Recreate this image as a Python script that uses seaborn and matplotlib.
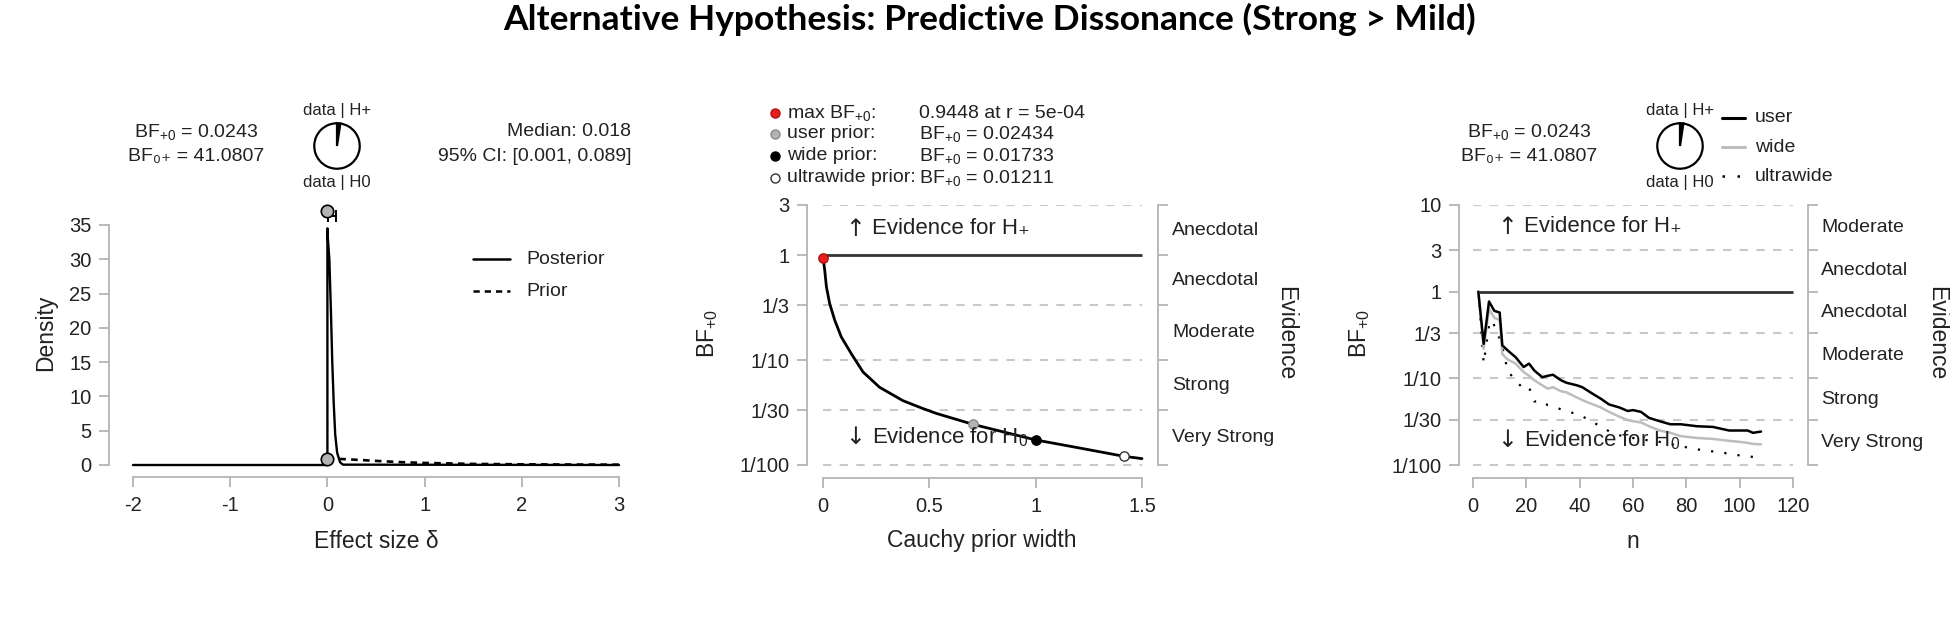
import numpy as np
import pandas as pd
import matplotlib
matplotlib.use("Agg")
import matplotlib.pyplot as plt
import matplotlib.transforms as mtransforms
from matplotlib.lines import Line2D
from matplotlib.ticker import NullLocator, FixedLocator, FixedFormatter
import seaborn as sns

# ------------------------------------------------------------------ data
title = "Alternative Hypothesis: Predictive Dissonance (Strong > Mild)"

# panel 1: prior / posterior
delta_post = [-2.0, 0.0, 0.0, 0.005, 0.02, 0.035, 0.05, 0.065, 0.08, 0.10, 0.13, 0.16, 3.0]
dens_post = [0.0, 0.0, 34.5, 33.0, 30.0, 23.0, 15.0, 9.0, 4.5, 1.8, 0.4, 0.05, 0.0]
delta_prior = [0.0, 0.15, 0.25, 0.5, 0.75, 1.0, 1.5, 2.0, 2.5, 3.0]
dens_prior = [0.90, 0.87, 0.80, 0.60, 0.42, 0.30, 0.16, 0.10, 0.07, 0.05]
sd_delta = [0.0, 0.0]
sd_dens = [37.0, 0.90]
post_median = 0.018
ci_low, ci_high = 0.001, 0.089
ci_height = 36.3
bf_p0 = 0.0243
bf_0p = 41.0807
x1_ticks = [-2, -1, 0, 1, 2, 3]
y1_ticks = [0, 5, 10, 15, 20, 25, 30, 35]

# panel 2: robustness check
r_width = [0.0005, 0.004, 0.008, 0.016, 0.031, 0.055, 0.086, 0.133, 0.188, 0.266,
           0.376, 0.47, 0.533, 0.707, 1.0, 1.2, 1.414, 1.5]
bf_r = [0.9448, 0.83, 0.72, 0.50, 0.347, 0.24, 0.166, 0.115, 0.077, 0.055,
        0.041, 0.0345, 0.031, 0.02434, 0.01733, 0.0146, 0.01211, 0.0115]
special_r = [0.0005, 0.707, 1.0, 1.414]
special_bf = [0.9448, 0.02434, 0.01733, 0.01211]
special_name = ["max", "user", "wide", "ultrawide"]
legend2_labels = ["max BF$_{+0}$:", "user prior:", "wide prior:", "ultrawide prior:"]
legend2_values = ["0.9448 at r = 5e-04", "BF$_{+0}$ = 0.02434",
                  "BF$_{+0}$ = 0.01733", "BF$_{+0}$ = 0.01211"]
x2_ticks = [0, 0.5, 1, 1.5]
x2_ticklabels = ["0", "0.5", "1", "1.5"]
y2_ticks = [0.01, 1 / 30, 0.1, 1 / 3, 1, 3]
y2_ticklabels = ["1/100", "1/30", "1/10", "1/3", "1", "3"]
evidence2 = ["Very Strong", "Strong", "Moderate", "Anecdotal", "Anecdotal"]

# panel 3: sequential analysis
n_user = [2, 4, 6, 8, 10, 11, 13, 16, 19, 21, 23, 26, 28, 30, 33, 35, 39, 41, 45, 48,
          51, 55, 58, 60, 63, 66, 70, 74, 78, 84, 90, 96, 100, 103, 105, 108]
bf_user = [1.0, 0.25, 0.77, 0.60, 0.575, 0.24, 0.21, 0.175, 0.135, 0.148, 0.123, 0.103,
           0.107, 0.110, 0.095, 0.089, 0.083, 0.079, 0.066, 0.058, 0.050, 0.046, 0.042,
           0.043, 0.041, 0.035, 0.032, 0.0295, 0.0295, 0.028, 0.0275, 0.025, 0.025,
           0.025, 0.0235, 0.0243]
n_wide = [2, 4, 6, 8, 10, 11, 13, 16, 19, 21, 23, 26, 28, 30, 33, 35, 39, 41, 45, 48,
          51, 55, 58, 60, 63, 66, 70, 74, 78, 84, 90, 96, 100, 103, 105, 108]
bf_wide = [1.0, 0.22, 0.63, 0.50, 0.47, 0.19, 0.165, 0.148, 0.118, 0.107, 0.095, 0.083,
           0.076, 0.079, 0.071, 0.069, 0.060, 0.056, 0.050, 0.046, 0.041, 0.036, 0.033,
           0.032, 0.031, 0.028, 0.025, 0.0235, 0.0215, 0.0205, 0.020, 0.019, 0.0185,
           0.018, 0.0175, 0.0173]
n_ultra = [2, 4, 6, 7, 9, 11, 13, 16, 19, 21, 23, 26, 28, 32, 36, 40, 45, 48, 51, 55,
           60, 64, 68, 74, 80, 86, 92, 96, 100, 104, 108]
bf_ultra = [1.0, 0.15, 0.40, 0.47, 0.35, 0.23, 0.123, 0.093, 0.076, 0.079, 0.054, 0.055,
            0.049, 0.045, 0.041, 0.038, 0.031, 0.028, 0.0245, 0.022, 0.0205, 0.0195,
            0.019, 0.0175, 0.016, 0.0148, 0.0141, 0.0135, 0.0129, 0.0125, 0.0121]
x3_ticks = [0, 20, 40, 60, 80, 100, 120]
y3_ticks = [0.01, 1 / 30, 0.1, 1 / 3, 1, 3, 10]
y3_ticklabels = ["1/100", "1/30", "1/10", "1/3", "1", "3", "10"]
evidence3 = ["Very Strong", "Strong", "Moderate", "Anecdotal", "Anecdotal", "Moderate"]
legend3_labels = ["user", "wide", "ultrawide"]

# ------------------------------------------------------------------ style
sns.set_theme(style="white")
plt.rcParams["font.family"] = ["Liberation Sans", "DejaVu Sans"]
plt.rcParams["mathtext.fontset"] = "custom"
plt.rcParams["mathtext.rm"] = "Liberation Sans"
plt.rcParams["mathtext.it"] = "Liberation Sans:italic"
plt.rcParams["mathtext.bf"] = "Liberation Sans:bold"
plt.rcParams["mathtext.sf"] = "Liberation Sans"

TXT = "#222222"
AX = "#b4b4b4"
GRID = "#c9c9c9"
TICK_FS = 14.5
LAB_FS = 16.5
HEAD_FS = 14
SMALL_FS = 12
SUBFAM = ["Liberation Sans", "DejaVu Sans"]

W, H = 1950, 633
fig = plt.figure(figsize=(W / 100, H / 100), dpi=100)
fig.patch.set_facecolor("white")


def box(l, t, r, b):
    return [l / W, 1 - b / H, (r - l) / W, (b - t) / H]


def T(x, y, s, **kw):
    kw.setdefault("color", TXT)
    kw.setdefault("va", "center")
    return fig.text(x / W, 1 - y / H, s, **kw)


def style_axes(ax, right=False):
    ax.set_facecolor("white")
    for side in ["top", "right", "left", "bottom"]:
        ax.spines[side].set_visible(False)
    ax.spines["left"].set_visible(True)
    ax.spines["bottom"].set_visible(True)
    ax.spines["left"].set_color(AX)
    ax.spines["bottom"].set_color(AX)
    ax.spines["left"].set_linewidth(1.3)
    ax.spines["bottom"].set_linewidth(1.3)
    if right:
        ax.spines["right"].set_visible(True)
        ax.spines["right"].set_color(AX)
        ax.spines["right"].set_linewidth(1.3)
    ax.tick_params(axis="both", which="major", direction="out", length=7.5, width=1.3,
                   color=AX, labelcolor=TXT, labelsize=TICK_FS, left=True, bottom=True,
                   right=right, labelright=False)
    ax.tick_params(axis="y", pad=5)
    ax.tick_params(axis="x", pad=6)
    ax.yaxis.set_minor_locator(NullLocator())
    ax.xaxis.set_minor_locator(NullLocator())
    ax.grid(False)
    ax.set_xlabel("")
    ax.set_ylabel("")


# ------------------------------------------------------------------ title
T(990, 19, title, ha="center", fontsize=25.5, fontweight="bold",
  family=["Lato", "DejaVu Sans"], color="black")

# ------------------------------------------------------------------ panel 1
ax1 = fig.add_axes(box(109, 205, 640, 477))
df_post = pd.DataFrame({"delta": delta_post, "dens": dens_post})
df_prior = pd.DataFrame({"delta": delta_prior, "dens": dens_prior})
sns.lineplot(data=df_post, x="delta", y="dens", sort=False, estimator=None,
             color="black", lw=1.7, ax=ax1)
sns.lineplot(data=df_prior, x="delta", y="dens", sort=False, estimator=None,
             color="black", lw=1.9, ax=ax1, linestyle=(0, (2.5, 2)))
ax1.errorbar([post_median], [ci_height],
             xerr=[[post_median - ci_low], [ci_high - post_median]],
             fmt="none", ecolor="black", elinewidth=1.4, capsize=4, capthick=1.4,
             clip_on=False)
sns.scatterplot(x=sd_delta, y=sd_dens, s=80, color="#b3b3b3", edgecolor="black",
                linewidth=1.2, ax=ax1, zorder=5, clip_on=False)
style_axes(ax1)
ax1.set_xlim(-2 - 24 / 97.1, 3 + 21 / 97.1)
ax1.set_ylim(-12 / 6.86, 260 / 6.86)
ax1.spines["left"].set_bounds(0, 35)
ax1.spines["bottom"].set_bounds(-2, 3)
ax1.set_xticks(x1_ticks)
ax1.set_xticklabels([str(v) for v in x1_ticks])
ax1.set_yticks(y1_ticks)
ax1.set_yticklabels([str(v) for v in y1_ticks])
T(46, 333, "Density", ha="center", rotation=90, fontsize=LAB_FS)
T(376, 542, "Effect size δ", ha="center", fontsize=LAB_FS)

# header panel 1
T(196, 132, "BF$_{+0}$ = %.4f" % bf_p0, ha="center", fontsize=HEAD_FS)
T(196, 157, "BF₀₊ = %.4f" % bf_0p, ha="center", fontsize=HEAD_FS, family=SUBFAM)
T(631, 132, "Median: %.3f" % post_median, ha="right", fontsize=HEAD_FS)
T(631, 157, "95%% CI: [%.3f, %.3f]" % (ci_low, ci_high), ha="right", fontsize=HEAD_FS)


def pie_at(cx, cy):
    pax = fig.add_axes(box(cx - 25, cy - 25, cx + 25, cy + 25))
    frac = bf_p0 / (1 + bf_p0)
    pax.pie([frac, 1 - frac], colors=["black", "white"], startangle=90,
            counterclock=False, wedgeprops=dict(edgecolor="black", linewidth=1.6))
    pax.set_xlim(-1.1, 1.1)
    pax.set_ylim(-1.1, 1.1)
    pax.set_aspect("equal")
    pax.axis("off")
    T(cx, cy - 36, "data | H+", ha="center", fontsize=SMALL_FS)
    T(cx, cy + 37, "data | H0", ha="center", fontsize=SMALL_FS)


pie_at(337, 146)

# legend panel 1
fig.add_artist(Line2D([473 / W, 510 / W], [1 - 259 / H] * 2, color="black", lw=1.8,
                      transform=fig.transFigure))
fig.add_artist(Line2D([473 / W, 510 / W], [1 - 291 / H] * 2, color="black", lw=1.8,
                      linestyle=(0, (2.5, 2)), transform=fig.transFigure))
T(526, 259, "Posterior", ha="left", fontsize=HEAD_FS)
T(526, 291, "Prior", ha="left", fontsize=HEAD_FS)

# ------------------------------------------------------------------ helpers for BF panels


def bf_panel(ax, xmin, xmax, levels, labels, evid, right_gap_frac):
    ax.hlines([lv for lv in levels if abs(lv - 1) > 1e-9], xmin, xmax, colors=GRID,
              linewidth=1.5, linestyles=[(0, (4, 4))], zorder=1)
    ax.set_yscale("log")
    ax.yaxis.set_major_locator(FixedLocator(levels))
    ax.yaxis.set_major_formatter(FixedFormatter(labels))
    ax.yaxis.set_minor_locator(NullLocator())
    trans = mtransforms.blended_transform_factory(ax.transAxes, ax.transData)
    for i, lab in enumerate(evid):
        ymid = np.sqrt(levels[i] * levels[i + 1])
        ax.text(1 + right_gap_frac, ymid, lab, transform=trans, ha="left", va="center",
                fontsize=HEAD_FS, color=TXT)


# ------------------------------------------------------------------ panel 2
ax2 = fig.add_axes(box(807, 205, 1158, 478))
style_axes(ax2, right=True)
bf_panel(ax2, 0, 1.5, y2_ticks, y2_ticklabels, evidence2, 14 / 351)
ax2.hlines(1, 0, 1.5, colors="#333333", linewidth=2.0, zorder=2)
df_r = pd.DataFrame({"r": r_width, "bf": bf_r})
sns.lineplot(data=df_r, x="r", y="bf", sort=False, estimator=None, color="black",
             lw=2.0, ax=ax2, zorder=3)
pt_face = {"max": "#e8201c", "user": "#b3b3b3", "wide": "black", "ultrawide": "white"}
pt_edge = {"max": "#b01010", "user": "#8a8a8a", "wide": "black", "ultrawide": "#333333"}
for rr, bb, nm in zip(special_r, special_bf, special_name):
    ax2.scatter([rr], [bb], s=45, color=pt_face[nm], edgecolor=pt_edge[nm],
                linewidth=1.0, zorder=5, clip_on=False)
ax2.set_xlim(-16 / 212.7, 1.5 + 16 / 212.7)
ax2.set_ylim(10 ** (-2 - 13 / 104.96), 3)
ax2.spines["left"].set_bounds(0.01, 3)
ax2.spines["right"].set_bounds(0.01, 3)
ax2.spines["bottom"].set_bounds(0, 1.5)
ax2.set_xticks(x2_ticks)
ax2.set_xticklabels(x2_ticklabels)
ax2.set_xlabel("")
ax2.set_ylabel("")
T(708, 333, "BF$_{+0}$", ha="center", rotation=90, fontsize=LAB_FS)
T(1286, 333, "Evidence", ha="center", rotation=-90, fontsize=LAB_FS)
T(982, 541, "Cauchy prior width", ha="center", fontsize=LAB_FS)
T(855, 229, "↑", ha="center", fontsize=17, family=["DejaVu Sans"])
T(872, 229, "Evidence for H₊", ha="left", fontsize=16, family=SUBFAM)
T(855, 437, "↓", ha="center", fontsize=17, family=["DejaVu Sans"])
T(872, 437, "Evidence for H$_0$", ha="left", fontsize=16)

# legend panel 2
leg_rows = [113, 134, 156, 178]
for yy, nm, lab, val in zip(leg_rows, special_name, legend2_labels, legend2_values):
    fig.add_artist(Line2D([775 / W], [1 - yy / H], marker="o", markersize=6.5,
                          markerfacecolor=pt_face[nm], markeredgecolor=pt_edge[nm],
                          markeredgewidth=1.0, linestyle="none",
                          transform=fig.transFigure))
    T(787, yy, lab, ha="left", fontsize=HEAD_FS)
    T(919, yy, val, ha="left", fontsize=HEAD_FS)

# ------------------------------------------------------------------ panel 3
ax3 = fig.add_axes(box(1459, 205, 1808, 478))
style_axes(ax3, right=True)
bf_panel(ax3, 0, 120, y3_ticks, y3_ticklabels, evidence3, 13 / 349)
ax3.hlines(1, n_user[0], 120, colors="#333333", linewidth=2.0, zorder=2)
df_u = pd.DataFrame({"n": n_user, "bf": bf_user})
df_w = pd.DataFrame({"n": n_wide, "bf": bf_wide})
df_x = pd.DataFrame({"n": n_ultra, "bf": bf_ultra})
sns.lineplot(data=df_x, x="n", y="bf", sort=False, estimator=None, color="black",
             lw=1.6, linestyle=(0, (1, 5)), ax=ax3, zorder=3)
sns.lineplot(data=df_w, x="n", y="bf", sort=False, estimator=None, color="#bdbdbd",
             lw=1.8, ax=ax3, zorder=4)
sns.lineplot(data=df_u, x="n", y="bf", sort=False, estimator=None, color="black",
             lw=1.8, ax=ax3, zorder=5)
ax3.set_xlim(-14 / 2.667, 120 + 15 / 2.667)
ax3.set_ylim(10 ** (-2 - 13 / 86.67), 10)
ax3.spines["left"].set_bounds(0.01, 10)
ax3.spines["right"].set_bounds(0.01, 10)
ax3.spines["bottom"].set_bounds(0, 120)
ax3.set_xticks(x3_ticks)
ax3.set_xticklabels([str(v) for v in x3_ticks])
ax3.set_xlabel("")
ax3.set_ylabel("")
T(1360, 333, "BF$_{+0}$", ha="center", rotation=90, fontsize=LAB_FS)
T(1937, 333, "Evidence", ha="center", rotation=-90, fontsize=LAB_FS)
T(1633, 542, "n", ha="center", fontsize=LAB_FS)
T(1507, 227, "↑", ha="center", fontsize=17, family=["DejaVu Sans"])
T(1524, 227, "Evidence for H₊", ha="left", fontsize=16, family=SUBFAM)
T(1507, 440, "↓", ha="center", fontsize=17, family=["DejaVu Sans"])
T(1524, 440, "Evidence for H$_0$", ha="left", fontsize=16)

# header panel 3
T(1529, 132, "BF$_{+0}$ = %.4f" % bf_p0, ha="center", fontsize=HEAD_FS)
T(1529, 157, "BF₀₊ = %.4f" % bf_0p, ha="center", fontsize=HEAD_FS, family=SUBFAM)
pie_at(1680, 146)

leg3_rows = [118, 147, 176]
fig.add_artist(Line2D([1722 / W, 1745 / W], [1 - leg3_rows[0] / H] * 2, color="black",
                      lw=2.2, transform=fig.transFigure))
fig.add_artist(Line2D([1722 / W, 1745 / W], [1 - leg3_rows[1] / H] * 2, color="#bdbdbd",
                      lw=2.2, transform=fig.transFigure))
fig.add_artist(Line2D([1722 / W, 1745 / W], [1 - leg3_rows[2] / H] * 2, color="black",
                      lw=1.8, linestyle=(0, (1, 5)), transform=fig.transFigure))
for yy, lab in zip(leg3_rows, legend3_labels):
    T(1755, yy, lab, ha="left", fontsize=HEAD_FS)

fig.savefig("out.png", dpi=100, facecolor="white")
